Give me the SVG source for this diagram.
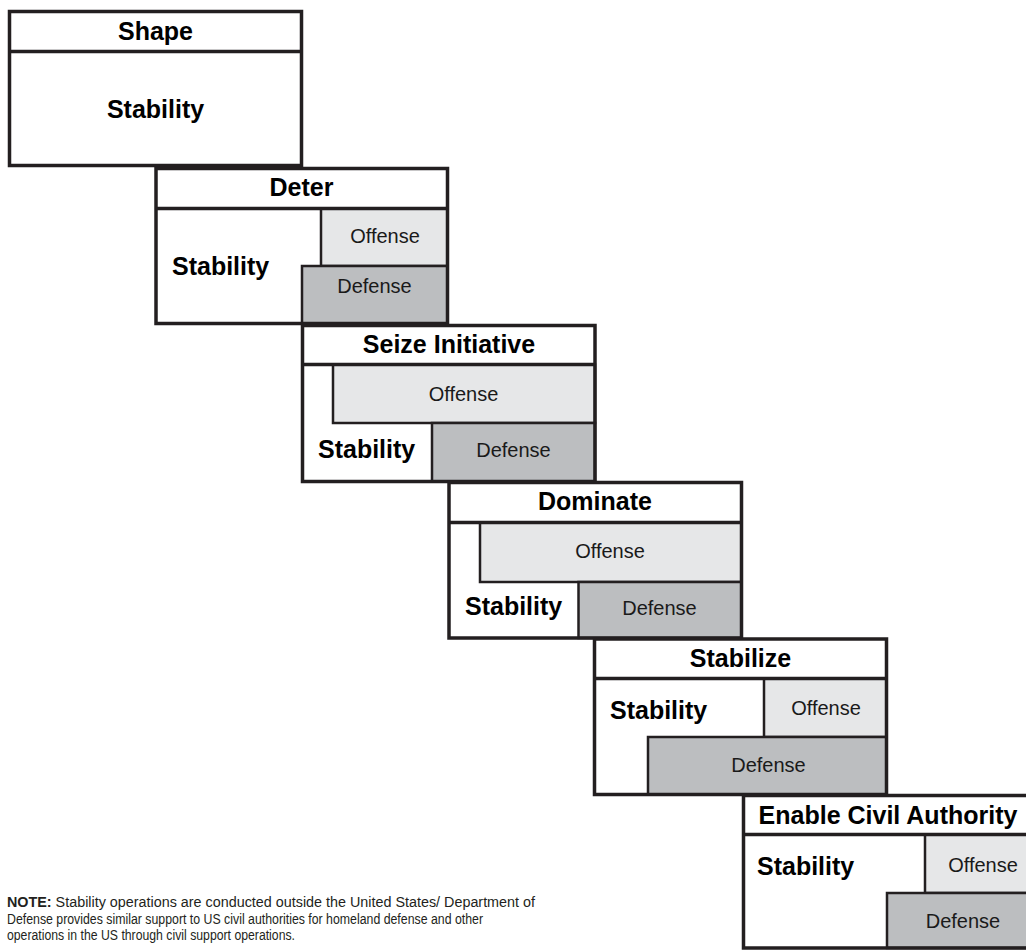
<svg xmlns="http://www.w3.org/2000/svg" width="1026" height="951" viewBox="0 0 1026 951">
  <style>
    .frame { fill: none; stroke: #231f20; stroke-width: 3.5; }
    .panel { fill: #ffffff; }
    .div { stroke: #231f20; stroke-width: 3.5; }
    .off { fill: #e6e7e8; stroke: #231f20; stroke-width: 2.5; }
    .def { fill: #bcbec0; stroke: #231f20; stroke-width: 2.5; }
    .hdr { font-family: "Liberation Sans", Arial, sans-serif; font-weight: bold; font-size: 25px; fill: #000; text-anchor: middle; }
    .stab { font-family: "Liberation Sans", Arial, sans-serif; font-weight: bold; font-size: 25px; fill: #000; }
    .op { font-family: "Liberation Sans", Arial, sans-serif; font-size: 20px; fill: #1a1a1a; text-anchor: middle; }
    .note { font-family: "Liberation Sans", Arial, sans-serif; font-size: 15.5px; fill: #231f20; }
  </style>
  <rect width="1026" height="951" fill="#ffffff"/>

  <!-- Phase 0: Shape -->
  <g id="shape">
    <rect class="panel" x="9.5" y="11.5" width="292" height="154"/>
    <line class="div" x1="9.5" y1="51.5" x2="301.5" y2="51.5"/>
    <rect class="frame" x="9.5" y="11.5" width="292" height="154"/>
    <text class="hdr" x="155.5" y="40">Shape</text>
    <text class="stab" x="155.5" y="118" text-anchor="middle">Stability</text>
  </g>

  <!-- Phase I: Deter -->
  <g id="deter">
    <rect class="panel" x="156" y="168.5" width="291.5" height="155"/>
    <rect class="off" x="321" y="208.5" width="126.5" height="57.5"/>
    <rect class="def" x="302" y="266" width="145.5" height="57.5"/>
    <line class="div" x1="156" y1="208.5" x2="447.5" y2="208.5"/>
    <rect class="frame" x="156" y="168.5" width="291.5" height="155"/>
    <text class="hdr" x="301.5" y="196">Deter</text>
    <text class="stab" x="172" y="275">Stability</text>
    <text class="op" x="385" y="243">Offense</text>
    <text class="op" x="374.5" y="293">Defense</text>
  </g>

  <!-- Phase II: Seize Initiative -->
  <g id="seize">
    <rect class="panel" x="302.5" y="325.5" width="292.5" height="156"/>
    <rect class="off" x="333" y="364.5" width="262" height="58.5"/>
    <rect class="def" x="432" y="423" width="163" height="58.5"/>
    <line class="div" x1="302.5" y1="364.5" x2="595" y2="364.5"/>
    <rect class="frame" x="302.5" y="325.5" width="292.5" height="156"/>
    <text class="hdr" x="449" y="353">Seize Initiative</text>
    <text class="stab" x="318" y="458">Stability</text>
    <text class="op" x="463.5" y="401">Offense</text>
    <text class="op" x="513.5" y="457">Defense</text>
  </g>

  <!-- Phase III: Dominate -->
  <g id="dominate">
    <rect class="panel" x="449" y="482.5" width="292.5" height="155.5"/>
    <rect class="off" x="480" y="522.5" width="261.5" height="59.5"/>
    <rect class="def" x="578.5" y="582" width="163" height="56"/>
    <line class="div" x1="449" y1="522.5" x2="741.5" y2="522.5"/>
    <rect class="frame" x="449" y="482.5" width="292.5" height="155.5"/>
    <text class="hdr" x="595" y="510">Dominate</text>
    <text class="stab" x="465" y="615">Stability</text>
    <text class="op" x="610" y="558">Offense</text>
    <text class="op" x="659.5" y="615">Defense</text>
  </g>

  <!-- Phase IV: Stabilize -->
  <g id="stabilize">
    <rect class="panel" x="594.5" y="639" width="292" height="155.5"/>
    <rect class="off" x="764" y="678.5" width="122.5" height="58.5"/>
    <rect class="def" x="648" y="737" width="238.5" height="57.5"/>
    <line class="div" x1="594.5" y1="678.5" x2="886.5" y2="678.5"/>
    <rect class="frame" x="594.5" y="639" width="292" height="155.5"/>
    <text class="hdr" x="740.5" y="667">Stabilize</text>
    <text class="stab" x="610" y="719">Stability</text>
    <text class="op" x="826" y="715">Offense</text>
    <text class="op" x="768.5" y="772">Defense</text>
  </g>

  <!-- Phase V: Enable Civil Authority (runs past the right edge) -->
  <g id="enable">
    <rect class="panel" x="743.5" y="795.5" width="293" height="152.5"/>
    <rect class="off" x="925" y="834.5" width="111.5" height="58.5"/>
    <rect class="def" x="887" y="893" width="149.5" height="55"/>
    <line class="div" x1="743.5" y1="834.5" x2="1036.5" y2="834.5"/>
    <rect class="frame" x="743.5" y="795.5" width="293" height="152.5"/>
    <text class="hdr" x="888" y="824">Enable Civil Authority</text>
    <text class="stab" x="757" y="875">Stability</text>
    <text class="op" x="983" y="872">Offense</text>
    <text class="op" x="963" y="928">Defense</text>
  </g>

  <!-- Footnote -->
  <g id="note">
    <text class="note" x="7" y="907" textLength="528" lengthAdjust="spacingAndGlyphs"><tspan font-weight="bold">NOTE:</tspan> Stability operations are conducted outside the United States/ Department of</text>
    <text class="note" x="7" y="923.5" textLength="476" lengthAdjust="spacingAndGlyphs">Defense provides similar support to US civil authorities for homeland defense and other</text>
    <text class="note" x="7" y="940" textLength="288" lengthAdjust="spacingAndGlyphs">operations in the US through civil support operations.</text>
  </g>

  <!-- no connectors: phases are joined by overlapping frames -->
  <g id="connectors"/>
</svg>
